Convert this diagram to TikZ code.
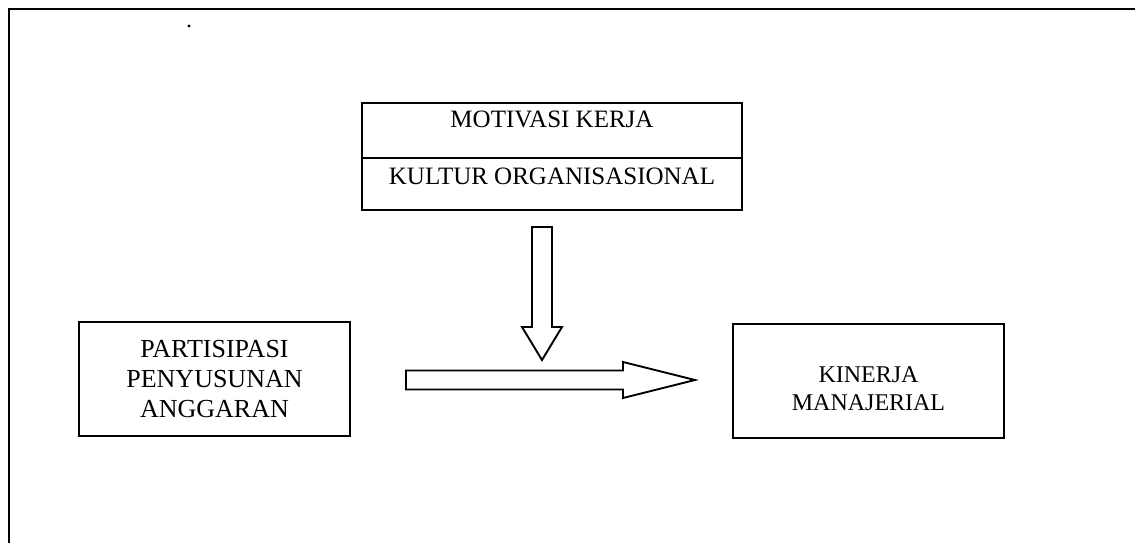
\documentclass[tikz,border=0pt]{standalone}
\usepackage{fontspec}
\setmainfont{Liberation Serif}
\usepackage{tikz}
\usetikzlibrary{positioning}

\tikzset{
    kotak/.style={draw, line width=1.9pt, inner sep=0pt, outer sep=0pt},
    teks/.style={font=\fontsize{25}{30}\selectfont, align=center, inner sep=0pt},
    panah/.style={draw, line width=1.9pt, fill=white, line join=miter},
}

\begin{document}
\begin{tikzpicture}[x=1pt, y=-1pt]
    \useasboundingbox (0,0) rectangle (1135,543);
    \clip (0,0) rectangle (1135,543);

    % bingkai luar
    \draw[line width=2pt] (9,560) -- (9,9) -- (1150,9);
    \fill (189,26) circle (1.6);

    \node[kotak, minimum width=380, minimum height=55] (motivasi) at (552,130.5) {};
    \node[kotak, minimum width=380, minimum height=52, below=0pt of motivasi] (kultur) {};
    \node[teks, anchor=base] (tmotivasi) at (552,127) {MOTIVASI KERJA};
    \node[teks, anchor=base] (tkultur) at (552,184) {KULTUR ORGANISASIONAL};

    \node[kotak, minimum width=271, minimum height=114] (partisipasi) at (214.5,379) {};
    \node[teks, font=\fontsize{26}{30}\selectfont] (tpartisipasi) at (partisipasi.center) {PARTISIPASI\\PENYUSUNAN\\ANGGARAN};

    \node[kotak, minimum width=271, minimum height=114] (kinerja) at (868.5,381) {};
    \node[teks, font=\fontsize{24}{28}\selectfont, yshift=-8pt] (tkinerja) at (kinerja.center) {KINERJA\\MANAJERIAL};

    \coordinate (atas) at (542,227);
    \coordinate (bawah) at (542,360);
    \draw[panah] (atas) ++(-10,0) -- ++(20,0) -- ++(0,100) -- ++(10,0) -- (bawah) -- ++(-20,-33) -- ++(10,0) -- cycle;

    \coordinate (pangkal) at (406,380);
    \coordinate (ujung) at (695,380);
    \draw[panah] (pangkal) ++(0,-9.5) -- ++(217,0) -- ++(0,-8.5) -- (ujung) -- ++(-72,18) -- ++(0,-8.5) -- ++(-217,0) -- cycle;
\end{tikzpicture}
\end{document}
